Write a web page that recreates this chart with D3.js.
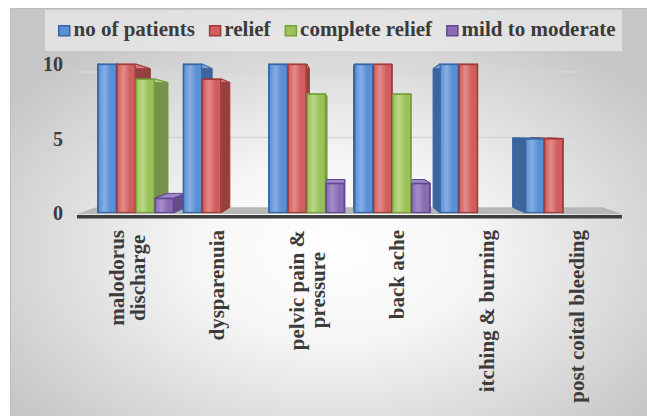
<!DOCTYPE html>
<html><head><meta charset="utf-8">
<script src="https://cdn.jsdelivr.net/npm/d3@7"></script>
<style>html,body{margin:0;padding:0;background:#fff;} svg{display:block}</style>
</head><body><svg id="c" width="647" height="416"></svg>
<script>
// ---- data ----
const categories = ["malodorus\ndischarge", "dysparenuia", "pelvic pain &\npressure", "back ache", "itching & burning", "post coital bleeding"];
const seriesNames = ["no of patients", "relief", "complete relief", "mild to moderate"];
const noOfPatients   = [10, 10, 10, 10, 10, 5];
const relief         = [10, 9, 10, 10, 10, 5];
const completeRelief = [9, 0, 8, 8, 0, 0];
const mildToModerate = [1, 0, 2, 2, 0, 0];
const yTicks = [0, 5, 10];

const seriesValues = [noOfPatients, relief, completeRelief, mildToModerate];
const palette = [
  {base:"#5b8fd3", light:"#84aee3", stroke:"#3565a5", side:"#3c659b", top:"#7da3d8"},
  {base:"#cf5f5f", light:"#e58a89", stroke:"#a23b3b", side:"#94403f", top:"#d97a7a"},
  {base:"#9bc15b", light:"#bad886", stroke:"#76a03a", side:"#77904d", top:"#b0cf78"},
  {base:"#8a6bb2", light:"#a68dca", stroke:"#5f4690", side:"#654c8a", top:"#a08ac6"}
];

const svg = d3.select("#c");
const W = 647, H = 416;
const font = "'Liberation Serif','Times New Roman',serif";
const textColor = "#3b3b3b";

const defs = svg.append("defs");
const bg = defs.append("radialGradient").attr("id","bg")
  .attr("cx","0.5").attr("cy","0.58").attr("r","0.62");
bg.append("stop").attr("offset","0").attr("stop-color","#ffffff");
bg.append("stop").attr("offset","0.35").attr("stop-color","#f6f6f6");
bg.append("stop").attr("offset","1").attr("stop-color","#c6c6c6");

palette.forEach((p,i)=>{
  const g = defs.append("linearGradient").attr("id","bar"+i).attr("x1","0").attr("x2","1").attr("y1","0").attr("y2","0");
  g.append("stop").attr("offset","0").attr("stop-color",p.base);
  g.append("stop").attr("offset","0.35").attr("stop-color",p.light);
  g.append("stop").attr("offset","0.7").attr("stop-color",p.base);
  g.append("stop").attr("offset","1").attr("stop-color",p.base);
});

// background
svg.append("rect").attr("x",10.5).attr("y",8.5).attr("width",W).attr("height",H)
  .attr("fill","url(#bg)").attr("stroke","#bdbdbd").attr("stroke-width",1);

// scales
const y = d3.scaleLinear().domain([0,10]).range([213,64]);
const x0 = d3.scaleBand().domain(categories).range([92.9, 606]).paddingInner(0.111).paddingOuter(0.0555);
const x1 = d3.scaleBand().domain(seriesNames).range([0, x0.bandwidth()]);
const xLabel = d3.scalePoint().domain(categories).range([127, 577]);

// perspective
const V = {x:345, y:131};
const k = 0.07, kWall = 0.12;
const px = (xx, kk=k) => xx + kk*(V.x - xx);
const py = (yy, kk=k) => yy + kk*(V.y - yy);

// legend
const leg = svg.append("g");
leg.append("rect").attr("x",45).attr("y",10).attr("width",577).attr("height",41)
  .attr("fill","#f2f2f2").attr("fill-opacity",0.6);
let lx = 58;
seriesNames.forEach((s,i)=>{
  leg.append("rect").attr("x",lx+0.75).attr("y",25.75).attr("width",11).attr("height",10)
    .attr("fill",palette[i].base).attr("stroke",palette[i].stroke).attr("stroke-width",1.5);
  const t = leg.append("text").attr("x",lx+15.5).attr("y",35.5).text(s)
    .attr("font-family",font).attr("font-weight","bold").attr("font-size",21).attr("fill",textColor);
  lx = lx + 15.5 + t.node().getComputedTextLength() + 14;
});

// gridlines on back wall
svg.append("g").selectAll("line").data(yTicks.filter(d=>d>0)).join("line")
  .attr("x1",78).attr("x2",578)
  .attr("y1",d=>py(y(d),kWall)).attr("y2",d=>py(y(d),kWall))
  .attr("stroke","#d6d6d6").attr("stroke-width",1.5);

// floor
const fx0 = 77, fx1 = 622, fy = y(0);
svg.append("polygon")
  .attr("points",[[fx0,fy+1],[fx1,fy+1],[px(fx1),py(fy)],[px(fx0),py(fy)]].map(p=>p.join(",")).join(" "))
  .attr("fill","#b7b7b7");
svg.append("rect").attr("x",fx0).attr("y",fy+2).attr("width",fx1-fx0).attr("height",3.5)
  .attr("fill","#3d3d3d");

// bars
const bars = [];
categories.forEach((c,ci)=>{
  seriesNames.forEach((s,si)=>{
    const v = seriesValues[si][ci];
    if (!v) return;
    const xa = x0(c) + x1(s), xb = xa + x1.bandwidth();
    bars.push({ci, si, v, xa, xb, yt: y(v), yb: y(0)});
  });
});
// back faces: farthest from vanishing point first
const backOrder = bars.slice().sort((a,b)=>
  Math.abs((b.xa+b.xb)/2 - V.x) - Math.abs((a.xa+a.xb)/2 - V.x));
const backG = svg.append("g");
backOrder.forEach(b=>{
  const p = palette[b.si];
  const poly = pts => backG.append("polygon").attr("points", pts.map(q=>q.join(",")).join(" "));
  // right side
  poly([[b.xb,b.yt],[b.xb,b.yb],[px(b.xb),py(b.yb)],[px(b.xb),py(b.yt)]])
    .attr("fill",p.side).attr("stroke",p.stroke).attr("stroke-width",1);
  // left side
  poly([[b.xa,b.yt],[b.xa,b.yb],[px(b.xa),py(b.yb)],[px(b.xa),py(b.yt)]])
    .attr("fill",p.side).attr("stroke",p.stroke).attr("stroke-width",1);
  // top
  poly([[b.xa,b.yt],[b.xb,b.yt],[px(b.xb),py(b.yt)],[px(b.xa),py(b.yt)]])
    .attr("fill",p.top).attr("stroke",p.stroke).attr("stroke-width",1);
});
// front faces
svg.append("g").selectAll("rect").data(bars).join("rect")
  .attr("x",d=>d.xa+0.5).attr("y",d=>d.yt+0.5)
  .attr("width",d=>d.xb-d.xa-1).attr("height",d=>d.yb-d.yt-1)
  .attr("fill",d=>`url(#bar${d.si})`).attr("stroke",d=>palette[d.si].stroke).attr("stroke-width",1.3);

// y-axis labels
svg.append("g").selectAll("text").data(yTicks).join("text")
  .attr("x",63).attr("y",d=>y(d)).attr("dy","0.36em")
  .attr("text-anchor","end").text(d=>d)
  .attr("font-family",font).attr("font-weight","bold").attr("font-size",20).attr("fill",textColor);

// category labels (rotated, top anchored)
const lblG = svg.append("g");
categories.forEach(c=>{
  const lines = c.split("\n");
  const lh = 21;
  const cx = xLabel(c);
  const g = lblG.append("g");
  const texts = lines.map((ln,i)=> g.append("text").text(ln)
    .attr("font-family",font).attr("font-weight","bold").attr("font-size",21).attr("fill",textColor)
    .attr("text-anchor","middle"));
  const L = d3.max(texts, t=>t.node().getComputedTextLength());
  const yc = 230 + L/2;
  texts.forEach((t,i)=>{
    const colX = cx + (i - (lines.length-1)/2)*lh;
    t.attr("transform",`translate(${colX},${yc}) rotate(-90)`).attr("x",0).attr("y",0).attr("dy","0.35em");
  });
});
</script></body></html>
